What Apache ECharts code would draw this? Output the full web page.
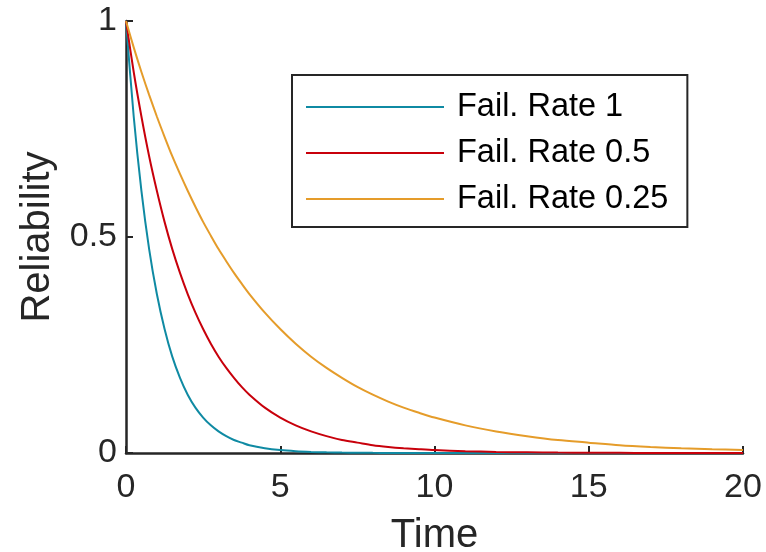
<!DOCTYPE html>
<html>
<head>
<meta charset="utf-8">
<script src="https://cdn.jsdelivr.net/npm/echarts@6/dist/echarts.min.js"></script>
<style>
html,body{margin:0;padding:0;background:#fff;}
#c{width:766px;height:552px;}
</style>
</head>
<body>
<div id="c"></div>
<script>
// Time points
const time = [0, 0.25, 0.5, 0.75, 1, 1.25, 1.5, 1.75, 2, 2.25, 2.5, 2.75, 3, 3.25, 3.5, 3.75, 4, 4.5, 5, 5.5, 6, 6.5, 7, 7.5, 8, 8.5, 9, 9.5, 10, 11, 12, 13, 14, 15, 16, 17, 18, 19, 20];
// Reliability values
const rate1 = [1, 0.779, 0.607, 0.472, 0.368, 0.287, 0.223, 0.174, 0.135, 0.105, 0.082, 0.064, 0.050, 0.039, 0.030, 0.024, 0.018, 0.011, 0.0067, 0.0041, 0.0025, 0.0015, 0.0009, 0.0006, 0.0003, 0.0002, 0.0001, 0.0001, 0, 0, 0, 0, 0, 0, 0, 0, 0, 0, 0];
const rate05 = [1, 0.882, 0.779, 0.687, 0.607, 0.535, 0.472, 0.417, 0.368, 0.325, 0.287, 0.253, 0.223, 0.197, 0.174, 0.153, 0.135, 0.105, 0.082, 0.064, 0.050, 0.039, 0.030, 0.024, 0.018, 0.014, 0.011, 0.0087, 0.0067, 0.0041, 0.0025, 0.0015, 0.0009, 0.0006, 0.0003, 0.0002, 0.0001, 0.0001, 0];
const rate025 = [1, 0.939, 0.882, 0.829, 0.779, 0.732, 0.687, 0.646, 0.607, 0.570, 0.535, 0.503, 0.472, 0.444, 0.417, 0.392, 0.368, 0.325, 0.287, 0.253, 0.223, 0.197, 0.174, 0.153, 0.135, 0.119, 0.105, 0.093, 0.082, 0.064, 0.050, 0.039, 0.030, 0.024, 0.018, 0.014, 0.011, 0.0087, 0.0067];
const seriesNames = ['Fail. Rate 1', 'Fail. Rate 0.5', 'Fail. Rate 0.25'];
const seriesColors = ['#0f8aa3', '#c8000b', '#e59c2a'];
const xTicks = [0, 5, 10, 15, 20];
const yTicks = [0, 0.5, 1];

const font = "'Liberation Sans', Arial, Helvetica, sans-serif";
const axisColor = '#262626';

function pairs(xs, ys) { return xs.map((x, i) => [x, ys[i]]); }
const allData = [rate1, rate05, rate025];

const chart = echarts.init(document.getElementById('c'), null, {renderer: 'canvas'});
chart.setOption({
  animation: false,
  backgroundColor: '#ffffff',
  grid: {left: 126, right: 23, top: 21, bottom: 99, containLabel: false, outerBoundsMode: 'none'},
  legend: {
    orient: 'vertical',
    left: 292, top: 75,
    padding: [14, 19, 10, 14],
    itemGap: 10,
    itemWidth: 138,
    itemHeight: 2,
    icon: 'rect',
    borderColor: axisColor,
    borderWidth: 2,
    backgroundColor: '#fff',
    data: seriesNames,
    textStyle: {fontFamily: font, fontSize: 32.5, color: '#000', lineHeight: 36, padding: [0, 0, 0, 8]}
  },
  xAxis: {
    type: 'value', min: xTicks[0], max: xTicks[xTicks.length - 1], interval: 5,
    name: 'Time', nameLocation: 'middle', nameGap: 63,
    nameTextStyle: {fontFamily: font, fontSize: 40, color: axisColor},
    axisLine: {show: true, onZero: false, lineStyle: {color: axisColor, width: 2.5}},
    axisTick: {show: true, inside: true, length: 7, lineStyle: {color: axisColor, width: 2}},
    axisLabel: {fontFamily: font, fontSize: 34, color: axisColor, margin: 18},
    splitLine: {show: false}
  },
  yAxis: {
    type: 'value', min: yTicks[0], max: yTicks[yTicks.length - 1], interval: 0.5,
    name: 'Reliability', nameLocation: 'middle', nameGap: 68,
    nameTextStyle: {fontFamily: font, fontSize: 40, color: axisColor},
    axisLine: {show: true, onZero: false, lineStyle: {color: axisColor, width: 2.5}},
    axisTick: {show: true, inside: true, length: 7, lineStyle: {color: axisColor, width: 2}},
    axisLabel: {fontFamily: font, fontSize: 34, color: axisColor, margin: 9},
    splitLine: {show: false}
  },
  series: seriesNames.map((n, i) => ({
    name: n, type: 'line', data: pairs(time, allData[i]),
    symbol: 'none', smooth: 0.3,
    lineStyle: {color: seriesColors[i], width: 2},
    itemStyle: {color: seriesColors[i]},
    z: 3
  }))
});
</script>
</body>
</html>
